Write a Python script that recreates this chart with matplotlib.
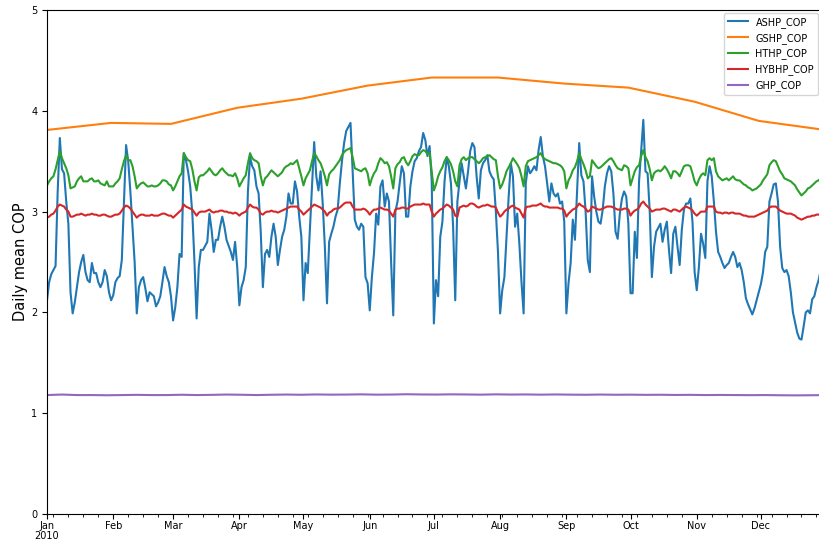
import numpy as np
import pandas as pd
import matplotlib
matplotlib.use('Agg')
import matplotlib.pyplot as plt
import matplotlib.dates as mdates

days = pd.date_range('2010-01-01', '2010-12-31', freq='D')

# daily mean COP values
ashp_cop = [
    2.12, 2.3, 2.38, 2.42, 2.46, 3.2, 3.73, 3.42, 3.38, 3.1,
    2.88, 2.2, 1.99, 2.1, 2.25, 2.4, 2.5, 2.57, 2.4, 2.32,
    2.3, 2.49, 2.39, 2.39, 2.3, 2.25, 2.3, 2.42, 2.36, 2.2,
    2.12, 2.17, 2.3, 2.34, 2.36, 2.52, 3.1, 3.66, 3.5, 3.2,
    2.85, 2.5, 1.99, 2.25, 2.32, 2.35, 2.24, 2.11, 2.2, 2.18,
    2.16, 2.06, 2.1, 2.16, 2.3, 2.45, 2.36, 2.3, 2.16, 1.92,
    2.05, 2.25, 2.58, 2.55, 3.58, 3.51, 3.4, 3.25, 2.98, 2.5,
    1.94, 2.45, 2.62, 2.62, 2.66, 2.7, 2.98, 2.82, 2.6, 2.72,
    2.72, 2.85, 2.95, 2.85, 2.72, 2.66, 2.6, 2.52, 2.7, 2.45,
    2.07, 2.25, 2.32, 2.45, 3.2, 3.54, 3.45, 3.41, 3.25, 3.18,
    2.8, 2.25, 2.58, 2.62, 2.55, 2.75, 2.88, 2.75, 2.47, 2.62,
    2.75, 2.82, 2.95, 3.18, 3.08, 3.08, 3.3, 3.2, 2.95, 2.75,
    2.12, 2.49, 2.39, 2.82, 3.25, 3.69, 3.35, 3.21, 3.4, 3.08,
    2.65, 2.09, 2.7, 2.78, 2.85, 2.95, 3.02, 3.28, 3.5, 3.68,
    3.8, 3.84, 3.88, 3.41, 2.92, 2.85, 2.82, 2.88, 2.85, 2.35,
    2.29, 2.02, 2.35, 2.59, 2.98, 2.87, 3.25, 3.31, 3.05, 3.18,
    3.1, 2.5, 1.97, 3.0, 3.1, 3.28, 3.45, 3.38, 2.95, 2.95,
    3.25, 3.4, 3.5, 3.53, 3.6, 3.64, 3.78, 3.71, 3.55, 3.65,
    3.3, 1.89, 2.32, 2.16, 2.75, 2.9, 3.3, 3.54, 3.45, 3.28,
    2.85, 2.12, 3.1, 3.3, 3.48, 3.35, 3.23, 3.4, 3.6, 3.68,
    3.64, 3.35, 3.13, 3.41, 3.48, 3.51, 3.56, 3.4, 3.35, 3.32,
    3.0, 2.6, 1.99, 2.22, 2.35, 2.75, 3.15, 3.48, 3.35, 2.85,
    2.98, 2.68, 2.3, 1.99, 3.28, 3.45, 3.38, 3.41, 3.45, 3.41,
    3.61, 3.74, 3.55, 3.45, 3.28, 3.1, 3.28, 3.18, 3.15, 3.18,
    3.08, 3.1, 2.9, 1.99, 2.29, 2.49, 2.92, 2.72, 3.2, 3.68,
    3.36, 3.3, 3.0, 2.52, 2.4, 3.35, 3.15, 3.0, 2.9, 2.88,
    3.02, 3.25, 3.38, 3.45, 3.4, 3.18, 2.8, 2.73, 2.98, 3.13,
    3.2, 3.15, 2.88, 2.19, 2.19, 2.8, 2.54, 3.3, 3.61, 3.91,
    3.4, 3.38, 3.0, 2.35, 2.65, 2.8, 2.84, 2.88, 2.7, 2.82,
    2.9, 2.62, 2.39, 2.78, 2.85, 2.65, 2.47, 2.82, 3.02, 3.08,
    3.08, 3.13, 2.9, 2.4, 2.22, 2.45, 2.78, 2.68, 2.54, 3.3,
    3.45, 3.35, 3.1, 2.8, 2.6, 2.55, 2.49, 2.44, 2.47, 2.49,
    2.55, 2.6, 2.55, 2.45, 2.49, 2.42, 2.3, 2.14, 2.08, 2.03,
    1.98, 2.04, 2.12, 2.2, 2.28, 2.4, 2.6, 2.65, 3.1, 3.18,
    3.27, 3.28, 3.1, 2.65, 2.44, 2.4, 2.42, 2.36, 2.2, 2.0,
    1.9, 1.8, 1.74, 1.73, 1.86, 2.0, 2.02, 1.99, 2.13, 2.16,
    2.25, 2.32, 2.42, 2.5, 2.55,
]

hthp_cop = [
    3.26, 3.3, 3.33, 3.35, 3.42, 3.51, 3.6, 3.53, 3.48, 3.43,
    3.36, 3.23, 3.24, 3.25, 3.3, 3.33, 3.35, 3.3, 3.3, 3.3,
    3.32, 3.33, 3.3, 3.3, 3.31, 3.28, 3.27, 3.26, 3.3, 3.25,
    3.25, 3.25, 3.28, 3.3, 3.33, 3.42, 3.5, 3.56, 3.51, 3.51,
    3.45, 3.35, 3.23, 3.26, 3.28, 3.29, 3.27, 3.25, 3.25, 3.26,
    3.25, 3.25, 3.26, 3.28, 3.31, 3.31, 3.3, 3.27, 3.26, 3.21,
    3.25, 3.3, 3.35, 3.38, 3.58, 3.54, 3.51, 3.5, 3.42, 3.3,
    3.21, 3.34, 3.36, 3.36, 3.38, 3.4, 3.43, 3.4, 3.37, 3.36,
    3.38, 3.41, 3.43, 3.4, 3.38, 3.36, 3.36, 3.35, 3.38, 3.33,
    3.25, 3.29, 3.33, 3.36, 3.48, 3.58, 3.53, 3.51, 3.5, 3.48,
    3.35, 3.26, 3.33, 3.35, 3.38, 3.41, 3.39, 3.37, 3.35, 3.37,
    3.39, 3.43, 3.45, 3.46, 3.48, 3.47, 3.49, 3.51, 3.43, 3.35,
    3.26, 3.33, 3.37, 3.41, 3.5, 3.58, 3.55, 3.51, 3.48, 3.42,
    3.35, 3.26, 3.37, 3.4, 3.42, 3.45, 3.48, 3.51, 3.56, 3.59,
    3.61, 3.62, 3.63, 3.54, 3.43, 3.42, 3.41, 3.4, 3.42, 3.43,
    3.38, 3.26, 3.33, 3.38, 3.41, 3.48, 3.53, 3.51, 3.48, 3.49,
    3.45, 3.35, 3.23, 3.43, 3.47, 3.49, 3.53, 3.54, 3.49, 3.46,
    3.5, 3.55, 3.57, 3.56, 3.56, 3.59, 3.61, 3.6, 3.57, 3.58,
    3.4, 3.21, 3.27, 3.35, 3.4, 3.44, 3.5, 3.54, 3.51, 3.47,
    3.4, 3.3, 3.25, 3.46, 3.52, 3.54, 3.51, 3.53, 3.54, 3.54,
    3.52, 3.5, 3.48, 3.5, 3.53, 3.54, 3.55, 3.56, 3.54, 3.52,
    3.51, 3.35, 3.23, 3.27, 3.33, 3.4, 3.44, 3.48, 3.53, 3.5,
    3.47, 3.43, 3.35, 3.25, 3.45, 3.5, 3.51, 3.52, 3.53, 3.54,
    3.56, 3.58, 3.54, 3.52, 3.51, 3.5, 3.49, 3.48, 3.48, 3.47,
    3.46, 3.44, 3.4, 3.23, 3.31, 3.35, 3.41, 3.44, 3.5, 3.58,
    3.52, 3.47, 3.41, 3.33, 3.35, 3.51, 3.48, 3.45, 3.43, 3.44,
    3.46, 3.48, 3.5, 3.52, 3.53, 3.5, 3.46, 3.43, 3.42, 3.41,
    3.46, 3.45, 3.43, 3.26, 3.33, 3.4, 3.44, 3.46, 3.55, 3.61,
    3.54, 3.5, 3.42, 3.31, 3.38, 3.4, 3.41, 3.4, 3.42, 3.45,
    3.42, 3.38, 3.33, 3.4, 3.4, 3.38, 3.35, 3.4, 3.45, 3.46,
    3.46, 3.45, 3.38, 3.3, 3.26, 3.32, 3.36, 3.38, 3.36, 3.51,
    3.53, 3.51, 3.53, 3.4, 3.35, 3.33, 3.31, 3.32, 3.33, 3.31,
    3.33, 3.35, 3.32, 3.31, 3.31, 3.29, 3.27, 3.26, 3.24, 3.23,
    3.21, 3.22, 3.23, 3.25, 3.27, 3.31, 3.34, 3.37, 3.46, 3.49,
    3.51, 3.5, 3.45, 3.4, 3.37, 3.33, 3.32, 3.31, 3.3, 3.28,
    3.26, 3.22, 3.19, 3.16, 3.18, 3.2, 3.23, 3.24, 3.26, 3.28,
    3.3, 3.31, 3.33, 3.34, 3.36,
]

hybhp_cop = [
    2.94, 2.95, 2.97, 2.98, 3.01, 3.05, 3.07, 3.06, 3.05, 3.02,
    3.0, 2.95, 2.95, 2.96, 2.97, 2.97, 2.98, 2.97, 2.96, 2.97,
    2.97, 2.98, 2.97, 2.97, 2.96, 2.96, 2.97, 2.97, 2.96, 2.95,
    2.95, 2.96, 2.97, 2.97, 2.98, 3.01, 3.04, 3.06, 3.05, 3.03,
    3.0, 2.97, 2.94, 2.96, 2.97, 2.97, 2.96, 2.96, 2.96, 2.97,
    2.96, 2.96, 2.96, 2.97, 2.98, 2.98, 2.97, 2.96, 2.96, 2.94,
    2.96, 2.98, 3.0, 3.02, 3.07, 3.05, 3.04, 3.03, 3.02, 2.99,
    2.96, 2.99, 3.0, 3.0, 3.0, 3.01, 3.02, 3.0, 2.99, 3.0,
    3.0, 3.01, 3.01, 3.0, 3.0, 2.99, 2.99, 2.98, 2.99, 2.98,
    2.96, 2.98, 2.99, 3.0, 3.04, 3.07, 3.05, 3.04, 3.04, 3.02,
    2.98, 2.97, 2.99, 3.0, 3.0, 3.01, 3.0, 3.0, 2.99, 3.0,
    3.01, 3.02, 3.03, 3.04, 3.05, 3.05, 3.05, 3.05, 3.02, 3.0,
    2.97, 2.99, 3.01, 3.03, 3.05, 3.07, 3.06, 3.05, 3.04, 3.02,
    3.0, 2.96, 2.99, 3.0, 3.02, 3.03, 3.03, 3.04, 3.06, 3.08,
    3.09, 3.09, 3.09, 3.05, 3.02, 3.02, 3.02, 3.02, 3.03, 3.02,
    3.0, 2.97, 3.0, 3.02, 3.02, 3.03, 3.04, 3.03, 3.02, 3.02,
    3.01, 2.98, 2.95, 3.02, 3.03, 3.03, 3.04, 3.04, 3.03, 3.03,
    3.05, 3.06, 3.07, 3.07, 3.07, 3.07, 3.08, 3.07, 3.07, 3.07,
    3.0, 2.95, 2.98, 3.0, 3.02, 3.03, 3.05, 3.07, 3.06, 3.04,
    3.02, 2.96, 2.95, 3.04, 3.05, 3.06, 3.05, 3.06, 3.08, 3.08,
    3.07, 3.05, 3.04, 3.05, 3.06, 3.06, 3.07, 3.06, 3.05, 3.05,
    3.04, 2.99, 2.95, 2.97, 3.0, 3.02, 3.03, 3.05, 3.06, 3.04,
    3.03, 3.02, 2.98, 2.94, 3.04, 3.05, 3.05, 3.06, 3.06, 3.06,
    3.07, 3.08, 3.06, 3.05, 3.05, 3.04, 3.04, 3.04, 3.04, 3.04,
    3.03, 3.03, 3.01, 2.95, 2.98, 3.0, 3.02, 3.03, 3.05, 3.08,
    3.06, 3.05, 3.03, 3.0, 3.01, 3.05, 3.04, 3.03, 3.02, 3.02,
    3.03, 3.04, 3.05, 3.05, 3.05, 3.04, 3.03, 3.02, 3.02, 3.02,
    3.03, 3.03, 3.02, 2.96, 2.99, 3.01, 3.02, 3.04, 3.08, 3.1,
    3.07, 3.05, 3.03, 3.0, 3.01, 3.02, 3.02, 3.02, 3.03, 3.03,
    3.02, 3.01, 3.0, 3.02, 3.02, 3.01, 3.0, 3.02, 3.04, 3.05,
    3.04, 3.03, 3.01, 2.98, 2.96, 2.98, 3.0, 3.0, 3.0, 3.05,
    3.05, 3.05, 3.05, 3.0, 2.99, 2.99, 2.98, 2.99, 2.99, 2.98,
    2.99, 2.99, 2.98, 2.98, 2.98, 2.97, 2.96, 2.96, 2.95, 2.95,
    2.95, 2.95, 2.96, 2.97, 2.98, 2.99, 3.0, 3.01, 3.04, 3.05,
    3.05, 3.05, 3.03, 3.01, 3.0, 2.99, 2.98, 2.98, 2.98, 2.97,
    2.96, 2.94, 2.93, 2.92, 2.93, 2.94, 2.95, 2.95, 2.96, 2.96,
    2.97, 2.97, 2.98, 2.98, 2.98,
]

# GSHP is a monthly figure, drawn between month ends
gshp_dates = pd.to_datetime([
    '2010-01-01', '2010-01-31', '2010-02-28', '2010-03-31', '2010-04-30',
    '2010-05-31', '2010-06-30', '2010-07-31', '2010-08-31', '2010-09-30',
    '2010-10-31', '2010-11-30', '2010-12-31'])
gshp_cop = [3.81, 3.88, 3.87, 4.03, 4.12, 4.25, 4.33, 4.33, 4.27, 4.23,
            4.09, 3.90, 3.81]

ghp_dates = pd.date_range('2010-01-01', periods=53, freq='7D')
ghp_cop = [1.18, 1.185, 1.18, 1.18, 1.178, 1.18, 1.182, 1.18, 1.18, 1.183,
           1.18, 1.182, 1.185, 1.183, 1.18, 1.183, 1.185, 1.183, 1.186, 1.184,
           1.185, 1.187, 1.184, 1.185, 1.188, 1.186, 1.185, 1.187, 1.186, 1.184,
           1.187, 1.185, 1.186, 1.184, 1.186, 1.184, 1.183, 1.185, 1.183, 1.184,
           1.182, 1.183, 1.181, 1.182, 1.18, 1.181, 1.18, 1.179, 1.18, 1.178,
           1.177, 1.178, 1.18]

fig = plt.figure(figsize=(8.2, 5.41), dpi=100)
ax = fig.add_axes([47 / 820, 1 - 514 / 541, 778 / 820, 504 / 541])

ax.plot(days, ashp_cop, color='tab:blue', lw=1.5, label='ASHP_COP')
ax.plot(gshp_dates, gshp_cop, color='tab:orange', lw=1.5, label='GSHP_COP')
ax.plot(days, hthp_cop, color='tab:green', lw=1.5, label='HTHP_COP')
ax.plot(days, hybhp_cop, color='tab:red', lw=1.5, label='HYBHP_COP')
ax.plot(ghp_dates, ghp_cop, color='tab:purple', lw=1.5, label='GHP_COP')

ax.set_xlim(days[0], days[-1])
ax.set_ylim(0, 5)
ax.set_ylabel('Daily mean COP', fontsize=10.5, labelpad=2)

def month_label(x, pos):
    d = mdates.num2date(x)
    if d.month == 1:
        return d.strftime('%b\n%Y')
    return d.strftime('%b')

ax.xaxis.set_major_locator(mdates.MonthLocator())
ax.xaxis.set_major_formatter(plt.FuncFormatter(month_label))
ax.xaxis.set_minor_locator(mdates.WeekdayLocator(byweekday=mdates.MO))
ax.tick_params(axis='both', which='major', labelsize=7, length=3.5)
ax.tick_params(axis='x', which='major', pad=1.5)
ax.tick_params(axis='x', which='minor', length=2)
for lbl in ax.get_xticklabels():
    lbl.set_horizontalalignment('center')
    lbl.set_linespacing(0.95)

ax.legend(loc='upper right', bbox_to_anchor=(818 / 820, 1 - 13 / 541),
          bbox_transform=fig.transFigure, fontsize=7, labelspacing=0.5,
          borderaxespad=0)

fig.savefig('out.png', dpi=100)
